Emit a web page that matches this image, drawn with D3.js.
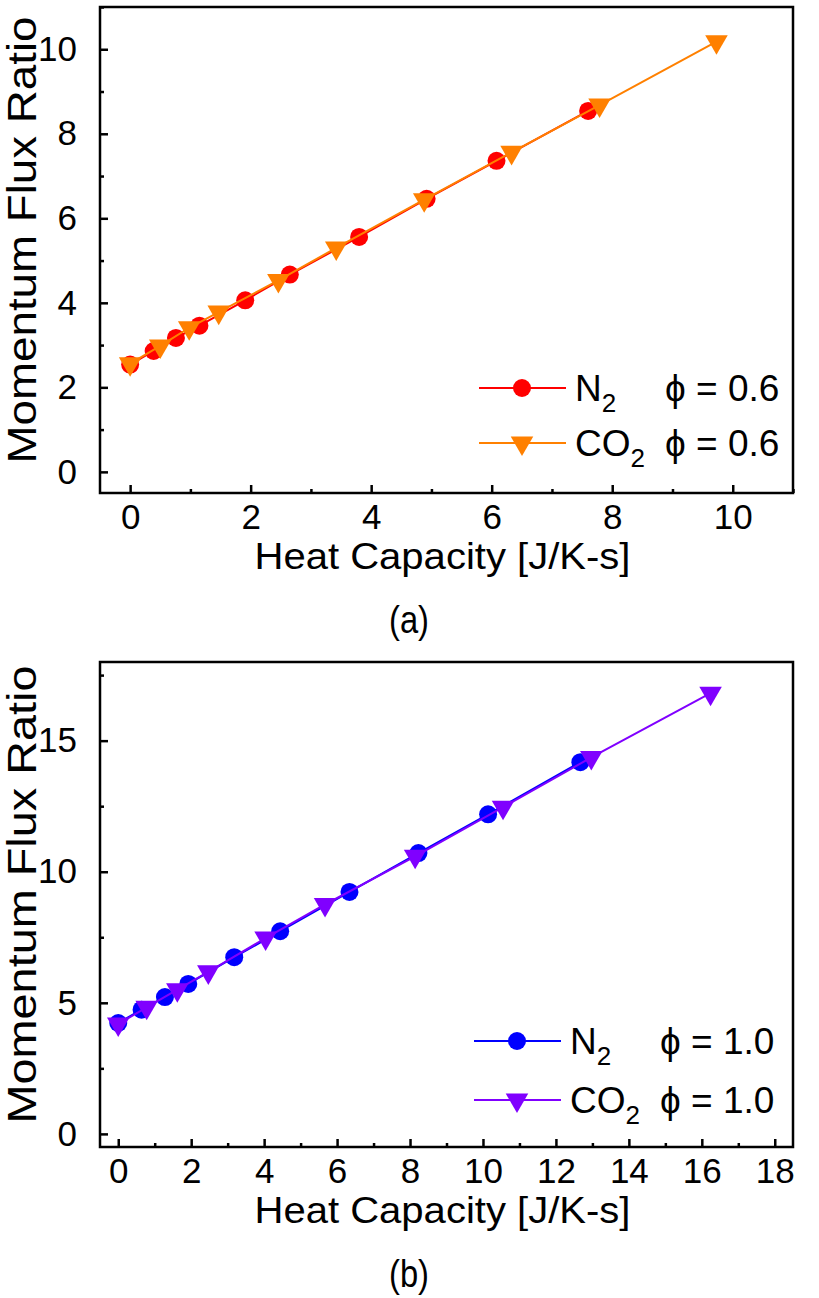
<!DOCTYPE html>
<html>
<head>
<meta charset="utf-8">
<script src="https://cdn.jsdelivr.net/npm/d3@7"></script>
<style>
body { margin: 0; background: #fff; }
text { font-family: Arial, "Liberation Sans", sans-serif; fill: #000; }
</style>
</head>
<body>
<script>
// panel (a): phi = 0.6
var n2_06_x  = [0, 0.39, 0.76, 1.15, 1.91, 2.65, 3.80, 4.92, 6.08, 7.60];
var n2_06_y  = [2.54, 2.86, 3.17, 3.46, 4.06, 4.67, 5.56, 6.46, 7.36, 8.54];
var co2_06_x = [0, 0.50, 0.98, 1.47, 2.46, 3.42, 4.88, 6.33, 7.79, 9.73];
var co2_06_y = [2.56, 2.98, 3.41, 3.78, 4.53, 5.30, 6.44, 7.56, 8.68, 10.18];

// panel (b): phi = 1.0
var n2_10_x  = [0, 0.64, 1.28, 1.92, 3.18, 4.44, 6.34, 8.23, 10.14, 12.67];
var n2_10_y  = [4.23, 4.74, 5.22, 5.72, 6.74, 7.73, 9.23, 10.71, 12.19, 14.18];
var co2_10_x = [0, 0.78, 1.62, 2.47, 4.04, 5.67, 8.14, 10.55, 12.97, 16.24];
var co2_10_y = [4.19, 4.83, 5.50, 6.18, 7.47, 8.75, 10.59, 12.46, 14.36, 16.81];

// ticks
var xTicksA = [0, 2, 4, 6, 8, 10];
var xMinorA = [1, 3, 5, 7, 9, 11];
var yTicksA = [0, 2, 4, 6, 8, 10];
var yMinorA = [1, 3, 5, 7, 9, 11];
var xTicksB = [0, 2, 4, 6, 8, 10, 12, 14, 16, 18];
var xMinorB = [1, 3, 5, 7, 9, 11, 13, 15, 17];
var yTicksB = [0, 5, 10, 15];
var yMinorB = [2.5, 7.5, 12.5, 17.5];

var xTitle = "Heat Capacity [J/K-s]";
var yTitle = "Momentum Flux Ratio";

var svg = d3.select("body").append("svg")
    .attr("width", 819)
    .attr("height", 1298);

svg.append("rect").attr("width", 819).attr("height", 1298).attr("fill", "#fff");

function zip(xs, ys) {
  return xs.map(function(v, i) { return {x: v, y: ys[i]}; });
}

var tri = d3.symbol().type(d3.symbolTriangle).size(220);

function drawPanel(cfg) {
  var x = d3.scaleLinear().domain(cfg.xDomain).range([cfg.left, cfg.right]);
  var y = d3.scaleLinear().domain(cfg.yDomain).range([cfg.bottom, cfg.top]);

  // minor ticks
  var gxm = svg.append("g")
      .attr("transform", "translate(0," + cfg.bottom + ")")
      .call(d3.axisBottom(x).tickValues(cfg.xMinor).tickSizeInner(-4).tickSizeOuter(0).tickFormat(""));
  var gym = svg.append("g")
      .attr("transform", "translate(" + cfg.left + ",0)")
      .call(d3.axisLeft(y).tickValues(cfg.yMinor).tickSizeInner(-4).tickSizeOuter(0).tickFormat(""));

  // major ticks + labels
  var gx = svg.append("g")
      .attr("transform", "translate(0," + cfg.bottom + ")")
      .call(d3.axisBottom(x).tickValues(cfg.xTicks).tickSizeInner(-8).tickSizeOuter(0).tickPadding(11));
  var gy = svg.append("g")
      .attr("transform", "translate(" + cfg.left + ",0)")
      .call(d3.axisLeft(y).tickValues(cfg.yTicks).tickSizeInner(-8).tickSizeOuter(0).tickPadding(23));

  [gxm, gym, gx, gy].forEach(function(g) {
    g.select(".domain").remove();
    g.selectAll("line").attr("stroke", "#000").attr("stroke-width", 2.5);
    g.attr("font-family", null).attr("font-size", null);
    g.selectAll("text").style("font-size", "35px");
  });

  // frame
  svg.append("rect")
      .attr("x", cfg.left).attr("y", cfg.top)
      .attr("width", cfg.right - cfg.left)
      .attr("height", cfg.bottom - cfg.top)
      .attr("fill", "none")
      .attr("stroke", "#000")
      .attr("stroke-width", 2.5);

  var line = d3.line()
      .x(function(d) { return x(d.x); })
      .y(function(d) { return y(d.y); });

  // series 1 (circles)
  svg.append("path")
      .datum(cfg.s1)
      .attr("fill", "none")
      .attr("stroke", cfg.c1)
      .attr("stroke-width", 2)
      .attr("d", line);
  svg.append("g").selectAll("circle")
      .data(cfg.s1)
    .enter().append("circle")
      .attr("cx", function(d) { return x(d.x); })
      .attr("cy", function(d) { return y(d.y); })
      .attr("r", 9)
      .attr("fill", cfg.c1);

  // series 2 (down triangles)
  svg.append("path")
      .datum(cfg.s2)
      .attr("fill", "none")
      .attr("stroke", cfg.c2)
      .attr("stroke-width", 2)
      .attr("d", line);
  svg.append("g").selectAll("path")
      .data(cfg.s2)
    .enter().append("path")
      .attr("d", tri)
      .attr("transform", function(d) { return "translate(" + x(d.x) + "," + y(d.y) + ") rotate(180)"; })
      .attr("fill", cfg.c2);

  // axis titles
  svg.append("text")
      .attr("x", (cfg.left + cfg.right) / 2 - 4)
      .attr("y", cfg.bottom + 76)
      .attr("text-anchor", "middle")
      .attr("textLength", 376)
      .attr("lengthAdjust", "spacingAndGlyphs")
      .style("font-size", "37px")
      .text(xTitle);

  svg.append("text")
      .attr("transform", "translate(36," + ((cfg.top + cfg.bottom) / 2 - 10) + ") rotate(-90)")
      .attr("text-anchor", "middle")
      .attr("textLength", cfg.yLen)
      .attr("lengthAdjust", "spacingAndGlyphs")
      .style("font-size", "40px")
      .text(yTitle);

  // panel tag
  svg.append("text")
      .attr("x", 409)
      .attr("y", cfg.bottom + 140)
      .attr("text-anchor", "middle")
      .attr("textLength", 40)
      .attr("lengthAdjust", "spacingAndGlyphs")
      .style("font-size", "38px")
      .text(cfg.tag);

  // legend
  var rows = [
    {sym: "circle", color: cfg.c1, gas: "N", phi: cfg.phi},
    {sym: "tri", color: cfg.c2, gas: "CO", phi: cfg.phi}
  ];
  rows.forEach(function(r, i) {
    var ly = cfg.legendY + i * cfg.legendStep;
    svg.append("line")
        .attr("x1", cfg.legendX).attr("x2", cfg.legendX + 87)
        .attr("y1", ly).attr("y2", ly)
        .attr("stroke", r.color).attr("stroke-width", 2);
    if (r.sym === "circle") {
      svg.append("circle")
          .attr("cx", cfg.legendX + 43).attr("cy", ly)
          .attr("r", 9).attr("fill", r.color);
    } else {
      svg.append("path")
          .attr("d", tri)
          .attr("transform", "translate(" + (cfg.legendX + 43) + "," + ly + ") rotate(180)")
          .attr("fill", r.color);
    }
    var t = svg.append("text")
        .attr("x", cfg.legendX + 96)
        .attr("y", ly + 13)
        .style("font-size", "37px");
    t.append("tspan").text(r.gas);
    t.append("tspan").attr("dy", 11).style("font-size", "26px").text("2");
    svg.append("text")
        .attr("x", cfg.legendX + 186)
        .attr("y", ly + 13)
        .style("font-size", "37px")
        .text("\u03D5 = " + r.phi);
  });
}

drawPanel({
  left: 100, right: 793, top: 7, bottom: 493,
  xDomain: [-0.5, 11], yDomain: [-0.5, 11],
  xTicks: xTicksA, xMinor: xMinorA, yTicks: yTicksA, yMinor: yMinorA,
  s1: zip(n2_06_x, n2_06_y), s2: zip(co2_06_x, co2_06_y),
  c1: "#ff0000", c2: "#ff8000",
  yLen: 447, tag: "(a)", phi: "0.6",
  legendX: 479, legendY: 388, legendStep: 55
});

drawPanel({
  left: 100, right: 793, top: 662, bottom: 1147,
  xDomain: [-0.5, 18.5], yDomain: [-0.5, 18],
  xTicks: xTicksB, xMinor: xMinorB, yTicks: yTicksB, yMinor: yMinorB,
  s1: zip(n2_10_x, n2_10_y), s2: zip(co2_10_x, co2_10_y),
  c1: "#0000ff", c2: "#8000ff",
  yLen: 458, tag: "(b)", phi: "1.0",
  legendX: 474, legendY: 1041, legendStep: 59
});
</script>
</body>
</html>
